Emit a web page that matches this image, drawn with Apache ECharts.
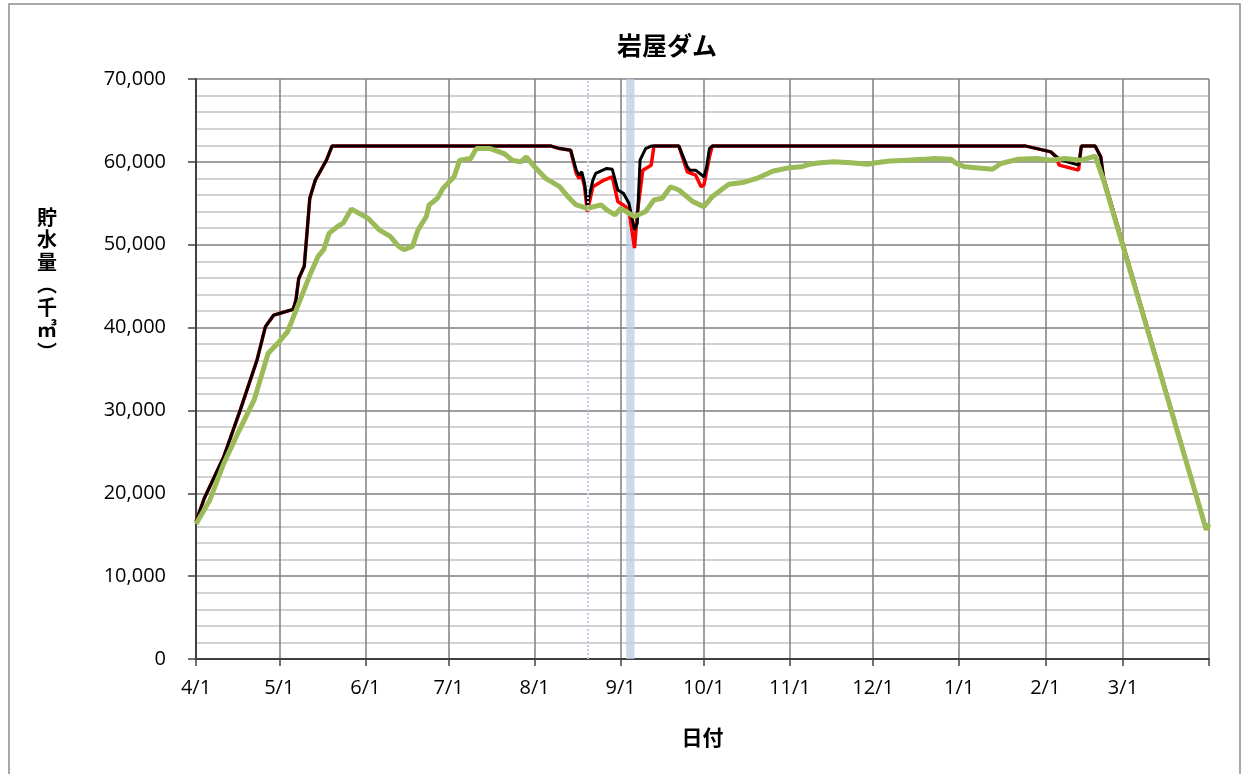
<!DOCTYPE html>
<html>
<head>
<meta charset="utf-8">
<script src="https://cdn.jsdelivr.net/npm/echarts@6/dist/echarts.min.js"></script>
<style>
  html, body { margin: 0; background: #fff; }
  #dam { width: 1245px; height: 774px; }
</style>
</head>
<body>
<div id="dam"></div>
<script>
// days counted from 4/1
const monthDays = [0, 30, 61, 91, 122, 153, 183, 214, 244, 275, 306, 334]
const monthLabels = ['4/1', '5/1', '6/1', '7/1', '8/1', '9/1', '10/1', '11/1', '12/1', '1/1', '2/1', '3/1']

// storage (thousand m3), [day, value]
const blackLine = [
  [0, 16600], [3, 19400], [10, 24400], [16, 30100], [22, 36100], [25, 40100], [28, 41500], [30, 41700],
  [35, 42200], [36, 43300], [37, 45900], [39, 47400], [40, 51500], [41, 55600], [43, 57800], [45, 59000],
  [47, 60200], [49, 61900], [128, 61900], [131, 61600], [135, 61400], [137, 59000], [138, 58400], [139, 58800],
  [140, 57400], [141, 54800], [143, 57800], [144, 58600], [148, 59200], [150, 59100], [152, 56600], [154, 56200],
  [156, 55000], [158, 51800], [159, 52600], [160, 60200], [162, 61600], [164, 61900], [174, 61900], [177, 59400],
  [178, 59000], [180, 59000], [183, 58200], [184, 59400], [185, 61600], [186, 61900], [299, 61900], [303, 61600],
  [308, 61200], [310, 60600], [312, 60200], [318, 59600], [319, 61900], [324, 61900], [326, 60600], [327, 58100],
  [364, 15700], [365, 16000]
]
const redLine = [
  [0, 16600], [3, 19400], [10, 24400], [16, 30100], [22, 36100], [25, 40100], [28, 41500], [30, 41700],
  [35, 42200], [36, 43300], [37, 45900], [39, 47400], [40, 51500], [41, 55600], [43, 57800], [45, 59000],
  [47, 60200], [49, 61900], [128, 61900], [131, 61600], [135, 61400], [137, 58600], [138, 58000], [139, 58400],
  [140, 57000], [141, 54000], [143, 57000], [147, 57800], [150, 58200], [152, 55200], [154, 54800], [156, 54200],
  [158, 49600], [159, 53800], [161, 59000], [164, 59600], [165, 61900], [174, 61900], [177, 58800], [180, 58400],
  [182, 57000], [183, 57200], [185, 60600], [186, 61900], [299, 61900], [303, 61600], [308, 61200], [310, 60600],
  [311, 59600], [318, 59000], [319, 61900], [324, 61900], [326, 60600], [327, 58100], [364, 15700], [365, 16000]
]
const greenLine = [
  [0, 16300], [5, 19200], [10, 23600], [15, 27200], [21, 31300], [26, 36900], [30, 38300], [33, 39500],
  [37, 42900], [41, 46300], [44, 48600], [46, 49400], [48, 51400], [51, 52200], [53, 52600], [56, 54300],
  [62, 53200], [66, 51800], [70, 51000], [73, 49800], [75, 49400], [78, 49800], [80, 51800], [83, 53400],
  [84, 54800], [87, 55600], [89, 56800], [93, 58200], [95, 60200], [99, 60400], [101, 61600], [106, 61600],
  [111, 61000], [114, 60200], [117, 60000], [119, 60600], [122, 59400], [126, 58000], [131, 57000], [134, 55800],
  [137, 54800], [141, 54400], [146, 54800], [148, 54200], [151, 53600], [153, 54400], [158, 53400], [162, 54000],
  [165, 55400], [168, 55600], [171, 57000], [174, 56600], [179, 55200], [183, 54600], [186, 55800], [190, 56800],
  [192, 57300], [197, 57500], [202, 58000], [204, 58300], [208, 58900], [214, 59300], [218, 59400], [221, 59700],
  [225, 59900], [230, 60000], [236, 59900], [242, 59700], [245, 59900], [250, 60100], [256, 60200], [262, 60300],
  [266, 60400], [272, 60300], [274, 59800], [277, 59400], [281, 59300], [287, 59100], [290, 59800], [296, 60300],
  [303, 60400], [308, 60200], [313, 60400], [319, 60200], [324, 60700], [327, 57800], [364, 15600], [365, 16300]
]

// event markers (day)
const eventLines = [141]
const eventBands = [[155, 158]]

const chart = echarts.init(document.getElementById('dam'))

const option = {
  animation: false,
  textStyle: {fontFamily: '"Open Sans", "Noto Sans CJK JP", sans-serif'},
  title: {
    text: '岩屋ダム',
    left: 662,
    top: 28,
    textAlign: 'center',
    textStyle: {fontSize: 25, fontWeight: 'bold', color: '#000', fontFamily: '"Noto Sans CJK JP"'}
  },
  graphic: [
    {
      type: 'rect',
      shape: {x: 9, y: 4, width: 1231, height: 790},
      style: {fill: 'none', stroke: '#8c8c8c', lineWidth: 1.5},
      silent: true
    },
    {
      type: 'text',
      left: 37,
      top: 206,
      style: {
        text: '貯\n水\n量\n︵\n千\n㎥\n︶',
        font: 'bold 20px "Noto Sans CJK JP"',
        lineHeight: 22.5,
        fill: '#000',
        align: 'center'
      }
    }
  ],
  grid: {left: 196, right: 36, top: 79, bottom: 115},
  xAxis: {
    type: 'value',
    min: 0,
    max: 365,
    name: '日付',
    nameLocation: 'middle',
    nameGap: 68,
    nameTextStyle: {fontSize: 21, fontWeight: 'bold', color: '#000', fontFamily: '"Noto Sans CJK JP"'},
    axisLine: {lineStyle: {color: '#404040', width: 2}},
    axisTick: {
      show: true,
      customValues: monthDays.concat([365]),
      length: 7,
      lineStyle: {color: '#404040', width: 1.5}
    },
    axisLabel: {
      customValues: monthDays,
      formatter: (v) => monthLabels[monthDays.indexOf(v)],
      fontSize: 20,
      color: '#000',
      margin: 19
    },
    splitLine: {show: true, lineStyle: {color: '#7f7f7f', width: 1.5}}
  },
  yAxis: {
    type: 'value',
    min: 0,
    max: 70000,
    interval: 10000,
    axisLine: {show: true, lineStyle: {color: '#404040', width: 2}},
    axisTick: {show: true, length: 8, lineStyle: {color: '#404040', width: 1.5}},
    axisLabel: {
      fontSize: 20,
      color: '#000',
      margin: 30,
      formatter: (v) => v.toLocaleString('en-US')
    },
    splitLine: {show: true, lineStyle: {color: '#7f7f7f', width: 1.5}},
    minorTick: {show: false, splitNumber: 5},
    minorSplitLine: {show: true, lineStyle: {color: '#c3c3c3', width: 1.5}}
  },
  series: [
    {
      name: 'red',
      type: 'line',
      data: redLine,
      showSymbol: false,
      lineStyle: {color: '#ff0000', width: 3.5},
      markArea: {
        silent: true,
        itemStyle: {color: 'rgba(185,205,228,0.75)'},
        data: eventBands.map((b) => [{xAxis: b[0]}, {xAxis: b[1]}])
      },
      markLine: {
        silent: true,
        symbol: 'none',
        label: {show: false},
        lineStyle: {color: '#b9cde4', type: 'dotted', width: 2},
        data: eventLines.map((d) => ({xAxis: d}))
      }
    },
    {
      name: 'black',
      type: 'line',
      data: blackLine,
      showSymbol: false,
      lineStyle: {color: '#000000', width: 3}
    },
    {
      name: 'green',
      type: 'line',
      data: greenLine,
      showSymbol: false,
      lineStyle: {color: '#9bbb59', width: 5}
    }
  ]
}

chart.setOption(option)
</script>
</body>
</html>
